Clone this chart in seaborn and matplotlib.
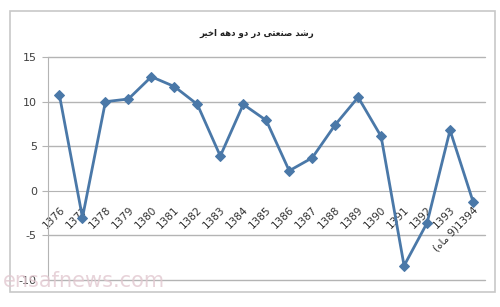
import numpy as np
import pandas as pd
import matplotlib
matplotlib.use("Agg")
import matplotlib.pyplot as plt
from matplotlib.patches import Rectangle
import seaborn as sns

years = ["1376", "1377", "1378", "1379", "1380", "1381", "1382", "1383", "1384",
         "1385", "1386", "1387", "1388", "1389", "1390", "1391", "1392", "1393",
         "(\uFEE9\uFE8E\uFEE3 9)1394"]
growth = [10.7, -3.0, 10.0, 10.3, 12.8, 11.7, 9.7, 3.9, 9.7, 7.9, 2.25, 3.7, 7.4,
          10.5, 6.1, -8.4, -3.6, 6.8, -1.2]
yticks = [-10, -5, 0, 5, 10, 15]
# "رشد صنعتی در دو دهه اخیر" in shaped, visual order
title = ("\uFEAE\uFEF4\uFEA7\uFE8D \uFEEA\uFEEB\uFEA9 \uFEED\uFEA9 \uFEAD\uFEA9 "
         "\uFEF0\uFE98\uFECC\uFEE8\uFEBB \uFEAA\uFEB7\uFEAD")

sns.set_style("white")
plt.rcParams["font.family"] = ["DejaVu Sans"]

fig = plt.figure(figsize=(5, 3.07), dpi=100)
ax = fig.add_axes([0.096, 0.088, 0.873, 0.726])

df = pd.DataFrame({"i": np.arange(len(years)), "v": growth})
sns.lineplot(data=df, x="i", y="v", ax=ax, color="#4a78a8", linewidth=2.0,
             marker="D", markersize=5.5, markeredgecolor="#4a78a8",
             markerfacecolor="#4a78a8")

ax.set_xlim(-0.5, len(years) - 0.5)
ax.set_ylim(-10, 15)
ax.set_yticks(yticks)
ax.set_yticklabels([str(t) for t in yticks])
for t in yticks:
    if t != 0:
        ax.axhline(t, color="#b4b4b4", linewidth=1.0, zorder=0, clip_on=False)

ax.spines["top"].set_visible(False)
ax.spines["right"].set_visible(False)
ax.spines["left"].set_color("#b4b4b4")
ax.spines["bottom"].set_color("#b4b4b4")
ax.spines["bottom"].set_position(("data", 0))
ax.spines["bottom"].set_zorder(0)

ax.set_xticks(np.arange(len(years)))
ax.set_xticklabels(years, rotation=45, ha="right", va="top",
                   rotation_mode="anchor", fontsize=7.5, color="#303030")
ax.set_xticks(np.arange(len(years) + 1) - 0.5, minor=True)
ax.tick_params(axis="x", which="major", length=0, pad=10)
ax.tick_params(axis="x", which="minor", length=4, direction="inout",
               color="#b4b4b4", width=1)
ax.tick_params(axis="y", length=4, direction="out", color="#b4b4b4",
               labelsize=8, labelcolor="#404040", left=True, pad=4)
ax.set_xlabel("")
ax.set_ylabel("")

fig.text(0.513, 1 - 33 / 307, title, ha="center", va="center",
         fontsize=6.2, fontweight="bold", color="#202020")

fig.patches.append(Rectangle((10 / 500, 1 - 292 / 307), 485 / 500, 281 / 307,
                             transform=fig.transFigure, fill=False,
                             edgecolor="#c8c8c8", linewidth=1.2, zorder=-1))

fig.text(0.005, 1 - 281 / 307, "ensafnews.com", ha="left", va="center",
         fontsize=15, color="#e2c8d0", alpha=0.8)

fig.savefig("out.png", dpi=100, facecolor="white")
